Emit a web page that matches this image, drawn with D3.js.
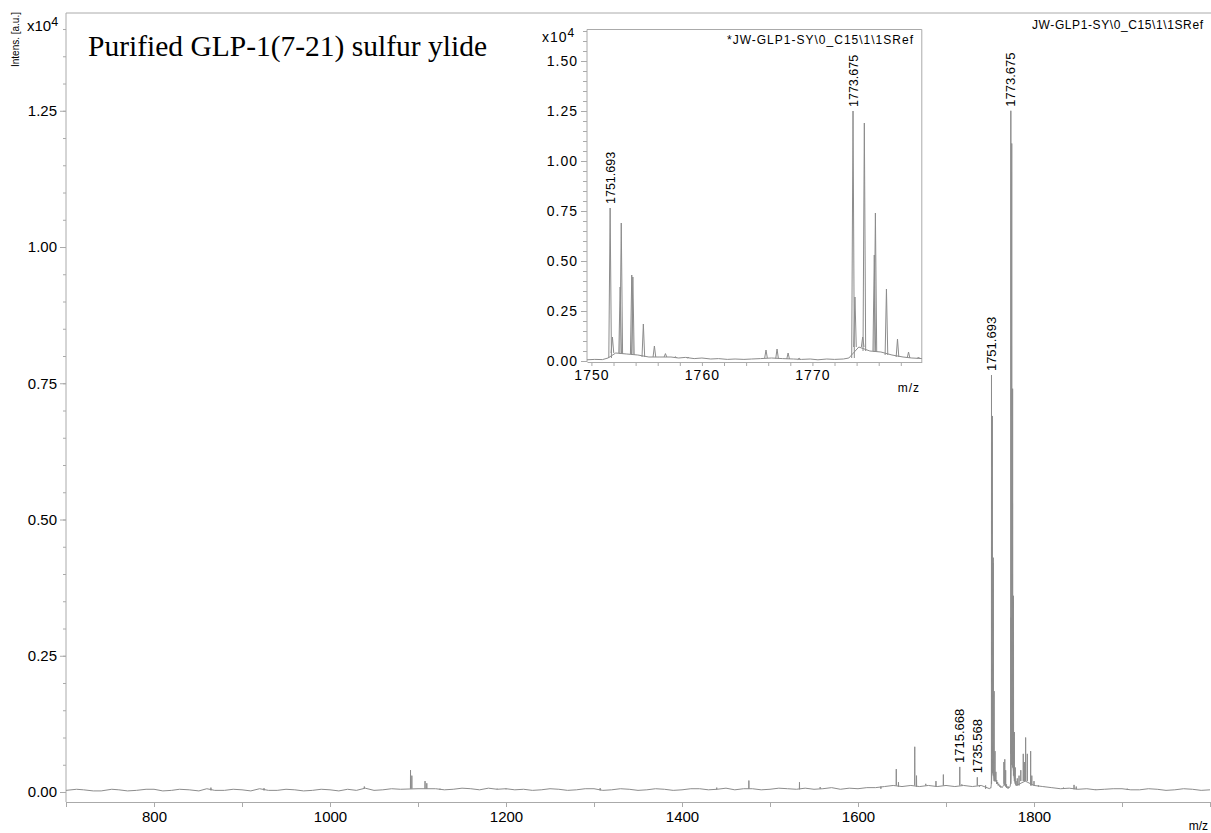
<!DOCTYPE html>
<html>
<head>
<meta charset="utf-8">
<script src="https://cdn.jsdelivr.net/npm/d3@7"></script>
<style>
body{margin:0;background:#fff;}
svg{display:block;}
</style>
</head>
<body>
<svg id="chart" width="1211" height="833"></svg>
<script>
// spectrum, intensity in units of 10^4 a.u.
var peaks = [
  [864.7,0.008],[925.0,0.007],[1039.0,0.010],[1091.5,0.040],[1093.0,0.030],
  [1108.0,0.020],[1110.0,0.016],[1125.0,0.006],[1190.0,0.006],[1200.0,0.005],
  [1307.0,0.007],[1439.5,0.008],[1476.0,0.021],[1533.5,0.018],[1557.0,0.009],
  [1626.0,0.006],[1643.5,0.042],[1646.0,0.018],[1664.5,0.083],[1666.5,0.030],
  [1677.0,0.015],[1688.6,0.020],[1697.0,0.032],[1715.668,0.046],[1718.0,0.014],
  [1735.568,0.027],[1738.0,0.010],[1745.0,0.012],
  [1751.693,0.765],[1751.9,0.12],[1752.6,0.37],[1752.7,0.69],[1753.65,0.43],[1753.75,0.42],
  [1754.7,0.185],[1755.7,0.075],[1756.7,0.037],[1757.6,0.022],[1758.7,0.016],
  [1765.8,0.055],[1766.8,0.06],[1767.8,0.04],[1768.8,0.014],
  [1773.675,1.25],[1773.85,0.32],[1774.55,0.12],[1774.7,1.19],[1775.6,0.53],[1775.7,0.74],
  [1776.7,0.36],[1777.7,0.11],[1778.7,0.045],[1779.6,0.02],
  [1781.0,0.025],[1783.0,0.03],[1785.0,0.04],[1787.8,0.07],[1789.0,0.055],[1790.5,0.10],
  [1792.4,0.07],[1796.2,0.075],[1797.5,0.03],[1800.0,0.02],[1805.0,0.012],[1812.0,0.010],
  [1820.0,0.008],[1833.5,0.008],[1845.5,0.013],[1848.0,0.010],[1870.0,0.005],[1906.0,0.006],[1942.0,0.004]
];
var baseline = [
  [700,0.003],[712,0.005],[720,0.004],[731,0.002],[740,0.002],[752,0.005],[760,0.004],[770,0.002],
  [780,0.003],[791,0.005],[800,0.005],[810,0.002],[820,0.003],[829,0.005],[840,0.004],[851,0.002],
  [860,0.006],[869,0.003],[880,0.003],[890,0.005],[900,0.004],[910,0.002],[920,0.006],[930,0.003],
  [940,0.003],[950,0.005],[960,0.004],[970,0.002],[980,0.003],[990,0.005],[1000,0.004],[1010,0.002],
  [1020,0.005],[1030,0.003],[1040,0.007],[1050,0.003],[1060,0.004],[1070,0.006],[1080,0.005],
  [1100,0.006],[1120,0.006],[1130,0.004],[1140,0.005],[1150,0.007],[1160,0.006],[1170,0.004],
  [1180,0.007],[1190,0.005],[1200,0.006],[1210,0.004],[1220,0.005],[1230,0.003],[1240,0.004],
  [1250,0.006],[1260,0.005],[1270,0.003],[1280,0.004],[1290,0.006],[1300,0.006],[1310,0.003],
  [1320,0.004],[1330,0.006],[1340,0.005],[1350,0.003],[1360,0.004],[1370,0.006],[1380,0.005],
  [1390,0.003],[1400,0.004],[1410,0.006],[1420,0.006],[1430,0.004],[1440,0.005],[1450,0.007],
  [1460,0.004],[1470,0.006],[1480,0.006],[1490,0.004],[1500,0.005],[1510,0.007],[1520,0.006],
  [1530,0.005],[1540,0.007],[1550,0.005],[1560,0.006],[1570,0.008],[1580,0.005],[1590,0.007],
  [1600,0.006],[1610,0.008],[1620,0.008],[1630,0.010],[1640,0.012],[1650,0.010],[1660,0.012],
  [1670,0.010],[1680,0.012],[1690,0.010],[1700,0.012],[1710,0.010],[1720,0.012],[1730,0.010],
  [1740,0.012],[1749.6,0.006],[1750.3,0.008],[1751.0,0.007],[1751.5,0.015],[1752.2,0.04],
  [1753.2,0.035],[1754.2,0.03],[1755.2,0.02],[1756.2,0.02],[1757.2,0.02],[1757.9,0.015],
  [1758.5,0.018],[1759.3,0.012],[1760.0,0.015],[1760.8,0.010],[1761.5,0.012],[1762.3,0.008],
  [1763.0,0.010],[1763.8,0.008],[1764.5,0.010],[1765.3,0.012],[1766.3,0.015],[1767.3,0.012],
  [1768.3,0.010],[1769.0,0.008],[1769.8,0.010],[1770.5,0.006],[1771.3,0.010],[1772.0,0.008],
  [1772.8,0.010],[1773.3,0.015],[1774.2,0.07],[1775.2,0.05],[1776.2,0.045],[1777.2,0.03],
  [1778.2,0.02],[1779.0,0.015],[1780,0.012],[1790,0.02],[1800,0.012],[1810,0.010],[1820,0.008],
  [1830,0.006],[1840,0.007],[1850,0.005],[1860,0.006],[1870,0.004],[1880,0.005],[1890,0.006],
  [1900,0.006],[1910,0.004],[1920,0.004],[1930,0.006],[1940,0.005],[1950,0.003],[1960,0.004],
  [1970,0.006],[1980,0.005],[1990,0.003],[2000,0.004]
];
var mainXTicks = [700,800,900,1000,1100,1200,1300,1400,1500,1600,1700,1800,1900,2000];
var mainXLabels = [800,1000,1200,1400,1600,1800];
var mainYLabels = [0,0.25,0.5,0.75,1.0,1.25];
var insetXLabels = [1750,1760,1770];
var insetYLabels = [0,0.25,0.5,0.75,1.0,1.25,1.5];
var mainPeakLabels = [1715.668,1735.568,1751.693,1773.675];
var insetPeakLabels = [1751.693,1773.675];

var SANS = '"Liberation Sans", Arial, sans-serif',
    AXIS = "#aaa",
    TRACE = "#8c8c8c",
    HW = 0.12; // half width of a drawn peak, m/z units

var svg = d3.select("#chart");
svg.append("rect").attr("width",1211).attr("height",833).attr("fill","#fff");

var baseAt = function(m){
  var i = d3.bisector(function(d){return d[0];}).center(baseline, m);
  return baseline[i][1];
};
var heightOf = function(m){
  return peaks.find(function(p){return p[0]===m;})[1];
};

function drawTrace(g, sx, sy){
  var line = d3.line().x(function(d){return sx(d[0]);}).y(function(d){return sy(d[1]);});
  g.append("path").attr("d",line(baseline))
    .attr("fill","none").attr("stroke",TRACE).attr("stroke-width",1);
  g.selectAll("path.peak").data(peaks).enter().append("path")
    .attr("class","peak")
    .attr("d",function(p){
      var b = baseAt(p[0]);
      return line([[p[0]-HW,b],[p[0],p[1]],[p[0]+HW,b]]);
    })
    .attr("fill","none").attr("stroke",TRACE).attr("stroke-width",1);
}

function styleAxis(g, size, spacing){
  g.attr("font-family",SANS).attr("font-size",size);
  g.selectAll(".tick line").attr("stroke",AXIS);
  g.selectAll(".domain").attr("stroke",AXIS);
  g.selectAll("text").attr("fill","#000").style("letter-spacing",spacing||"0px");
}

// ---------- main plot ----------
var x = d3.scaleLinear().domain([700,2000]).range([66,1210]);
var y = d3.scaleLinear().domain([0,1.4294]).range([792,13]);

svg.append("clipPath").attr("id","mainClip").append("rect")
  .attr("x",66).attr("y",13).attr("width",1145).attr("height",789);

var gx = svg.append("g").attr("transform","translate(0,802)")
  .call(d3.axisBottom(x).tickValues(mainXTicks).tickSize(5).tickSizeOuter(0).tickPadding(4)
    .tickFormat(function(d){return mainXLabels.indexOf(d)>=0 ? d : "";}));
styleAxis(gx,15);

var gy = svg.append("g").attr("transform","translate(66,0)")
  .call(d3.axisLeft(y).tickValues(mainYLabels).tickSize(6).tickPadding(3).tickFormat(d3.format(".2f")));
gy.select(".domain").remove();
styleAxis(gy,15);
var gym = svg.append("g").attr("transform","translate(66,0)")
  .call(d3.axisLeft(y).tickValues(d3.range(1,29).map(function(i){return i*0.05;})).tickSize(3).tickFormat(""));
gym.select(".domain").remove();
styleAxis(gym,15);

svg.append("line").attr("x1",66).attr("y1",13).attr("x2",1211).attr("y2",13).attr("stroke",AXIS);
svg.append("line").attr("x1",66).attr("y1",13).attr("x2",66).attr("y2",802).attr("stroke",AXIS);

drawTrace(svg.append("g").attr("clip-path","url(#mainClip)"), x, y);

svg.selectAll("text.mlab").data(mainPeakLabels).enter().append("text")
  .attr("class","mlab")
  .attr("transform",function(m){return "translate("+(x(m)+4.5)+","+(y(heightOf(m))-4)+") rotate(-90)";})
  .attr("font-family",SANS).attr("font-size",13).text(function(m){return m.toFixed(3);});

var yl = svg.append("text").attr("font-family",SANS).attr("font-size",15).attr("x",27).attr("y",31);
yl.append("tspan").text("x10");
yl.append("tspan").attr("font-size",12.5).attr("dy",-5).text("4");
svg.append("text").attr("transform","translate(19,12) rotate(-90)").attr("text-anchor","end")
  .attr("font-family",SANS).attr("font-size",10).text("Intens. [a.u.]");
svg.append("text").attr("x",1208).attr("y",830).attr("text-anchor","end")
  .attr("font-family",SANS).attr("font-size",12).text("m/z");
svg.append("text").attr("x",1032).attr("y",29).attr("textLength",171).attr("lengthAdjust","spacing")
  .attr("font-family",SANS).attr("font-size",12).text("JW-GLP1-SY\\0_C15\\1\\1SRef");
svg.append("text").attr("x",88).attr("y",56)
  .attr("font-family",'"Liberation Serif", "Times New Roman", serif').attr("font-size",29.5)
  .text("Purified GLP-1(7-21) sulfur ylide");

// ---------- inset ----------
var ix = d3.scaleLinear().domain([1749.6,1779.9]).range([587,921.8]);
var iy = d3.scaleLinear().domain([0,1.6575]).range([361,29.5]);
var inset = svg.append("g");
inset.append("rect").attr("x",532).attr("y",27).attr("width",392).attr("height",370).attr("fill","#fff");

svg.append("clipPath").attr("id","insetClip").append("rect")
  .attr("x",587).attr("y",29.5).attr("width",334.8).attr("height",332.5);
svg.append("clipPath").attr("id","labelClip").append("rect")
  .attr("x",532.5).attr("y",27).attr("width",8).attr("height",8);

var ixa = inset.append("g").attr("transform","translate(0,362)")
  .call(d3.axisBottom(ix).tickValues(d3.range(1750,1780,2)).tickSize(4).tickSizeOuter(0).tickPadding(4)
    .tickFormat(function(d){return insetXLabels.indexOf(d)>=0 ? d : "";}));
styleAxis(ixa,14,"1px");
var iya = inset.append("g").attr("transform","translate(587,0)")
  .call(d3.axisLeft(iy).tickValues(insetYLabels).tickSize(6).tickPadding(3).tickFormat(d3.format(".2f")));
iya.select(".domain").remove();
styleAxis(iya,14,"1px");
var iym = inset.append("g").attr("transform","translate(587,0)")
  .call(d3.axisLeft(iy).tickValues(d3.range(1,34).map(function(i){return i*0.05;})).tickSize(4).tickFormat(""));
iym.select(".domain").remove();
styleAxis(iym,14);

inset.append("line").attr("x1",587).attr("y1",29.5).attr("x2",921.8).attr("y2",29.5).attr("stroke",AXIS);
inset.append("line").attr("x1",921.8).attr("y1",29.5).attr("x2",921.8).attr("y2",362).attr("stroke",AXIS);
inset.append("line").attr("x1",587).attr("y1",29.5).attr("x2",587).attr("y2",362).attr("stroke",AXIS);

drawTrace(inset.append("g").attr("clip-path","url(#insetClip)"), ix, iy);

inset.selectAll("text.ilab").data(insetPeakLabels).enter().append("text")
  .attr("class","ilab")
  .attr("transform",function(m){return "translate("+(ix(m)+4.5)+","+(iy(heightOf(m))-4)+") rotate(-90)";})
  .attr("font-family",SANS).attr("font-size",12.5).text(function(m){return m.toFixed(3);});

var iyl = inset.append("text").attr("font-family",SANS).attr("font-size",14).attr("x",542).attr("y",42)
  .style("letter-spacing","1px");
iyl.append("tspan").text("x10");
iyl.append("tspan").attr("font-size",12).attr("dy",-5).text("4");
inset.append("text").attr("clip-path","url(#labelClip)")
  .attr("transform","translate(532,28.5) rotate(-90)").attr("text-anchor","end")
  .attr("font-family",SANS).attr("font-size",14).text("Intens. [a.u.]");
inset.append("text").attr("x",727).attr("y",44).attr("textLength",186).attr("lengthAdjust","spacing")
  .attr("font-family",SANS).attr("font-size",12).text("*JW-GLP1-SY\\0_C15\\1\\1SRef");
inset.append("text").attr("x",920).attr("y",392).attr("text-anchor","end")
  .attr("font-family",SANS).attr("font-size",12).style("letter-spacing","1px").text("m/z");
</script>
</body>
</html>
